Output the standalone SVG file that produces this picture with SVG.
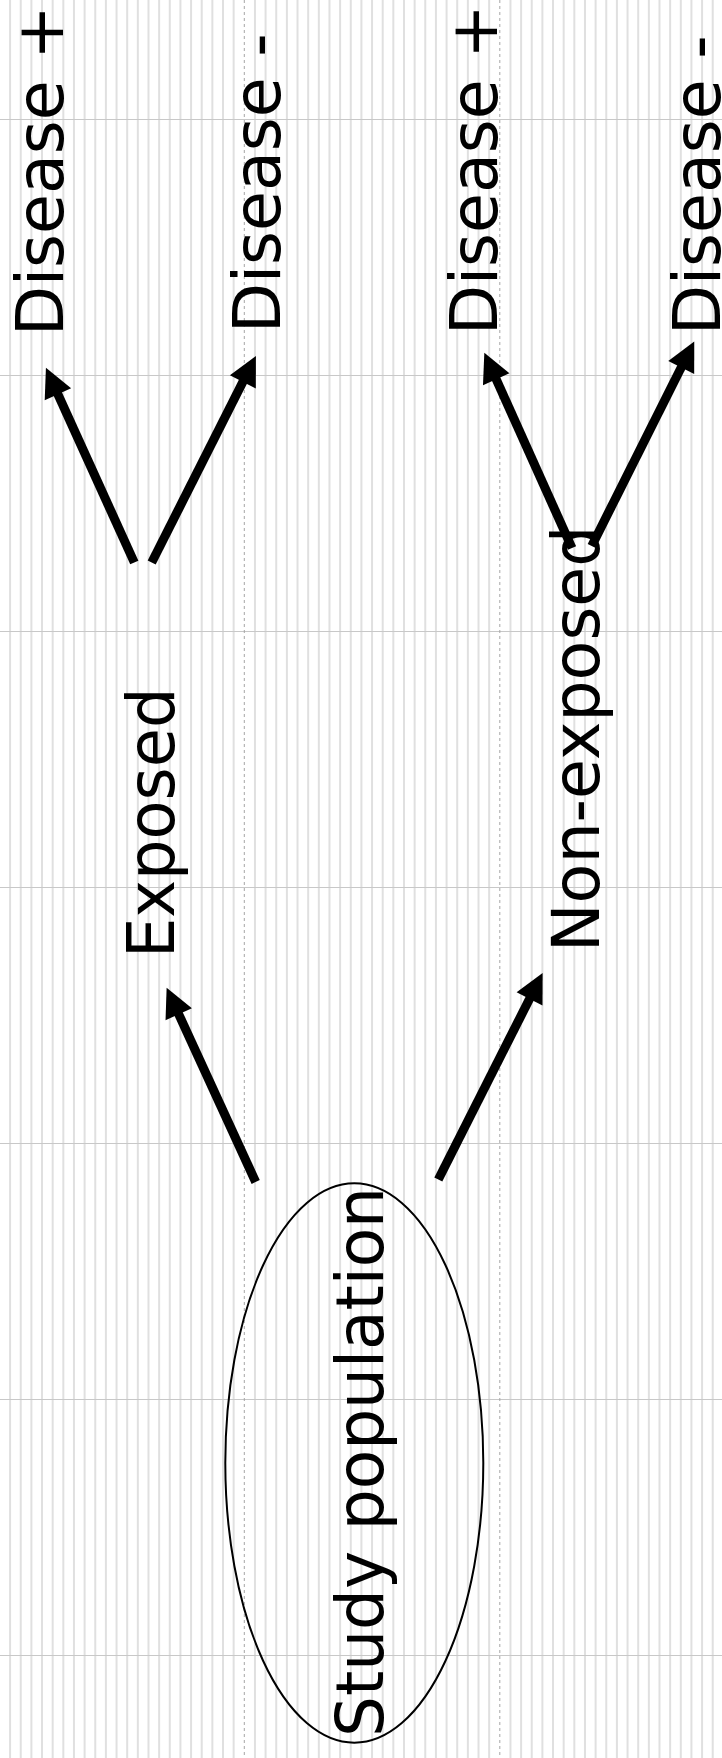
<svg xmlns="http://www.w3.org/2000/svg" width="722" height="1758" viewBox="0 0 722 1758">
<style>
.lbl{font-family:"DejaVu Sans","Liberation Sans",sans-serif;font-size:65px;fill:#000}
.arr{stroke:#000;stroke-width:9;stroke-linecap:butt;fill:none;marker-end:url(#ah)}
.minor{stroke:#e0e0e0;stroke-width:2;fill:none}
.major{stroke:#a6a6a6;stroke-width:1;stroke-dasharray:3 3;fill:none}
.hline{stroke:#c8c8c8;stroke-width:1;fill:none}
</style>
<defs>
<marker id="ah" markerUnits="userSpaceOnUse" markerWidth="40" markerHeight="40" viewBox="-2 -20 40 40" refX="0" refY="0" orient="auto" overflow="visible">
<path d="M-1,-14.5 L28,0 L-1,14.5 Z" fill="#000"/>
</marker>
</defs>
<g id="background">
<rect x="0" y="0" width="722" height="1758" fill="#fff"/>
<path class="minor" d="M10.09,0V1758M20.73,0V1758M31.38,0V1758M42.03,0V1758M52.67,0V1758M63.32,0V1758M73.96,0V1758M84.61,0V1758M95.26,0V1758M105.9,0V1758M116.55,0V1758M127.19,0V1758M137.84,0V1758M148.49,0V1758M159.13,0V1758M169.78,0V1758M180.42,0V1758M191.07,0V1758M201.72,0V1758M212.36,0V1758M223.01,0V1758M233.65,0V1758M254.95,0V1758M265.59,0V1758M276.24,0V1758M286.88,0V1758M297.53,0V1758M308.18,0V1758M318.82,0V1758M329.47,0V1758M340.11,0V1758M350.76,0V1758M361.41,0V1758M372.05,0V1758M382.7,0V1758M393.34,0V1758M403.99,0V1758M414.64,0V1758M425.28,0V1758M435.93,0V1758M446.57,0V1758M457.22,0V1758M467.87,0V1758M478.51,0V1758M489.16,0V1758M510.45,0V1758M521.1,0V1758M531.74,0V1758M542.39,0V1758M553.03,0V1758M563.68,0V1758M574.33,0V1758M584.97,0V1758M595.62,0V1758M606.26,0V1758M616.91,0V1758M627.56,0V1758M638.2,0V1758M648.85,0V1758M659.49,0V1758M670.14,0V1758M680.79,0V1758M691.43,0V1758M702.08,0V1758M712.72,0V1758"/>
<path class="hline" d="M0,119.5H722M0,375.5H722M0,631.5H722M0,887.5H722M0,1143.5H722M0,1399.5H722M0,1655.5H722"/>
<path class="major" d="M244.3,0V1758M499.8,0V1758"/>
</g>
<g id="node-disease-pos-1"><text class="lbl" transform="translate(62.5,336) rotate(-90)">Disease +</text></g>
<g id="node-disease-neg-1"><text class="lbl" transform="translate(279.5,333) rotate(-90)">Disease -</text></g>
<g id="node-disease-pos-2"><text class="lbl" transform="translate(497,335) rotate(-90)">Disease +</text></g>
<g id="node-disease-neg-2"><text class="lbl" transform="translate(720,335) rotate(-90)">Disease -</text></g>
<g id="node-exposed"><text class="lbl" transform="translate(174,958) rotate(-90)" textLength="270.5" lengthAdjust="spacingAndGlyphs">Exposed</text></g>
<g id="node-non-exposed"><text class="lbl" transform="translate(598.5,952) rotate(-90)">Non-exposed</text></g>
<g id="node-study-population">
<ellipse cx="354.3" cy="1463" rx="129" ry="279.7" fill="none" stroke="#000" stroke-width="2"/>
<text class="lbl" transform="translate(382.5,1737) rotate(-90)" textLength="550" lengthAdjust="spacingAndGlyphs">Study population</text>
</g>
<g id="connectors">
<line class="arr" x1="134.3" y1="562.5" x2="57.5" y2="393.3"/>
<line class="arr" x1="151.7" y1="562.5" x2="243.3" y2="381"/>
<line class="arr" x1="572" y1="548" x2="495.8" y2="378.3"/>
<line class="arr" x1="591.7" y1="546" x2="681.7" y2="366.5"/>
<line class="arr" x1="255.7" y1="1182" x2="178.3" y2="1013.3"/>
<line class="arr" x1="438.3" y1="1179.5" x2="530" y2="998"/>
</g>
</svg>
